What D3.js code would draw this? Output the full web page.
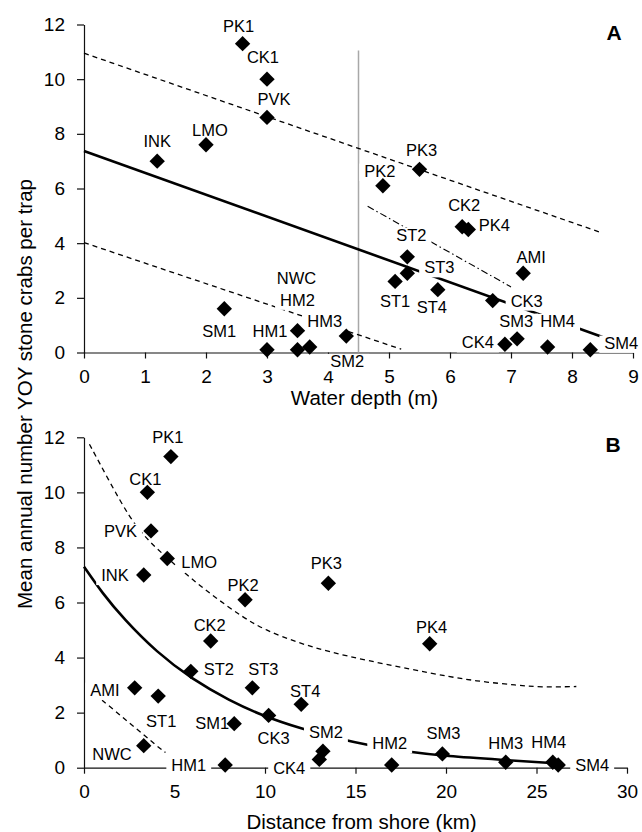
<!DOCTYPE html>
<html><head><meta charset="utf-8">
<script src="https://cdn.jsdelivr.net/npm/d3@7"></script>
<style>
body{margin:0;background:#fff}
svg{display:block}
text{font-family:"Liberation Sans",Arial,Helvetica,sans-serif;fill:#000}
</style>
</head><body>
<svg id="c" width="642" height="832"></svg>
<script>
// ---------------- DATA ----------------
const sites = ["PK1","CK1","PVK","LMO","INK","PK2","PK3","CK2","PK4","AMI","ST2","ST3","ST1","ST4","CK3","SM1","NWC","HM1","HM2","HM3","HM4","SM2","SM3","CK4","SM4"];
const yoyPerTrap = [11.3,10.0,8.6,7.6,7.0,6.1,6.7,4.6,4.5,2.9,3.5,2.9,2.6,2.3,1.9,1.6,0.8,0.1,0.1,0.2,0.2,0.6,0.5,0.3,0.1];
const depthM     = [2.6,3.0,3.0,2.0,1.2,4.9,5.5,6.2,6.3,7.2,5.3,5.3,5.1,5.8,6.7,2.3,3.5,3.0,3.5,3.7,7.6,4.3,7.1,6.9,8.3];
const distanceKm = [4.8,3.5,3.7,4.6,3.3,8.9,13.5,7.0,19.1,2.8,5.9,9.3,4.1,12.0,10.2,8.3,3.3,7.8,17.0,23.3,25.9,13.2,19.8,13.0,26.2];

const yTicks = [0,2,4,6,8,10,12];
const xTicksA = [0,1,2,3,4,5,6,7,8,9];
const xTicksB = [0,5,10,15,20,25,30];

// fitted lines (panel A: depth)
const fitA      = [[0,7.37],[8.5,0.57]];
const upperA    = [[0,10.95],[8.5,4.37]];
const lowerA    = [[0,4.02],[5.2,0.12]];
const dashDotA  = [[4.65,5.35],[7.0,2.4]];
const breakA    = [[4.5,0],[4.5,11.05]];

// fitted curves (panel B: distance)
const fitB   = [[0,7.3],[1,6.35],[2.2,5.4],[4,4.2],[6,3.2],[8,2.45],[10,1.85],[12,1.42],[14,1.05],[16,0.78],[18,0.57],[20,0.42],[23,0.29],[26.1,0.16]];
const upperB = [[0.3,11.75],[1.4,10.4],[2.5,9.1],[3.5,8.25],[5.4,7.15],[7,6.3],[8.8,5.45],[10,5.0],[11.9,4.52],[13.6,4.2],[15.6,3.9],[18,3.58],[20.2,3.3],[22,3.12],[23.9,3.0],[25.2,2.92],[27.2,2.95]];
const lowerB = [[1.0,2.45],[1.8,2.02],[2.5,1.63],[3.3,1.2],[4.0,0.8],[4.5,0.55]];

// ---------------- LAYOUT ----------------
const labelA = {PK1:[-4,-12],CK1:[-4,-16],PVK:[7,-12],LMO:[4,-9],INK:[0,-14],PK2:[-3,-9],PK3:[2,-13],
  CK2:[2,-16],PK4:[26,1],AMI:[8,-10],ST2:[4,-16],ST3:[32,0],ST1:[0,26],ST4:[-6,23],CK3:[34,6],
  SM3:[-1,-12],HM4:[10,-20],CK4:[-27,4],SM4:[31,-1],SM2:[1,31],SM1:[-5,28],HM1:[3,-13],NWC:[-1,-47],
  HM2:[0,-44],HM3:[15,-20]};
const labelB = {PK1:[-3,-14],CK1:[-2,-7],PVK:[-14,6,"end"],LMO:[14,10,"start"],INK:[-15,6,"end"],
  PK2:[-2,-9],PK3:[-2,-14],PK4:[2,-11],CK2:[-1,-10],ST2:[13,4,"start"],ST3:[11,-13],AMI:[-15,8,"end"],
  ST1:[3,31],ST4:[4,-7],CK3:[5,29],SM1:[-5,5,"end"],NWC:[-12,14,"end"],HM1:[-19,6,"end"],
  CK4:[-14,15,"end"],SM2:[3,-13],HM2:[-2,-16],SM3:[1,-15],HM3:[0,-13],HM4:[-4,-14],SM4:[17,6,"start"]};

const svg = d3.select("#c");
const TICK_FS = 19, LAB_FS = 16.5, TITLE_FS = 20.5;

function panel(opts){
  const {x, y, xVals, xTicks, lines, letter, letterPos, labels, title, titleY} = opts;
  const g = svg.append("g");
  // axes
  const ax = g.append("g").attr("transform",`translate(0,${y(0)})`)
    .call(d3.axisBottom(x).tickValues(xTicks).tickSize(6).tickPadding(11).tickSizeOuter(0));
  const ay = g.append("g").attr("transform",`translate(${x(0)},0)`)
    .call(d3.axisLeft(y).tickValues(yTicks).tickSize(7).tickPadding(12).tickSizeOuter(0));
  [ax,ay].forEach(a=>{
    a.selectAll("path,line").attr("stroke","#111").attr("stroke-width",1.2);
    a.selectAll("text").attr("font-size",TICK_FS).attr("font-family",'"Liberation Sans",Arial,sans-serif').attr("fill","#111");
  });
  // lines
  lines.forEach(l=>{
    const gen = d3.line().x(d=>x(d[0])).y(d=>y(d[1])).curve(l.curve||d3.curveLinear);
    g.append("path").attr("d",gen(l.data)).attr("fill","none")
      .attr("stroke",l.color||"#000").attr("stroke-width",l.w)
      .attr("stroke-dasharray",l.dash||null);
  });
  // labels with white background
  const lg = g.append("g");
  sites.forEach((s,i)=>{
    const o = labels[s]; if(!o) return;
    const px = x(xVals[i]) + o[0], py = y(yoyPerTrap[i]) + o[1];
    const sub = lg.append("g");
    const t = sub.append("text").attr("x",px).attr("y",py).attr("text-anchor",o[2]||"middle")
      .attr("font-size",LAB_FS).text(s);
    const bb = t.node().getBBox();
    sub.insert("rect","text").attr("x",bb.x-5).attr("width",bb.width+10)
      .attr("y",py-0.8*LAB_FS).attr("height",1.05*LAB_FS).attr("fill","#fff");
  });
  // points
  g.append("g").selectAll("path").data(sites).join("path")
    .attr("d",d3.symbol(d3.symbolSquare,118)())
    .attr("transform",(s,i)=>`translate(${x(xVals[i])},${y(yoyPerTrap[i])}) rotate(45)`)
    .attr("fill","#000");
  // panel letter
  g.append("text").attr("x",letterPos[0]).attr("y",letterPos[1]).attr("text-anchor","middle")
    .attr("font-size",21).attr("font-weight","bold").text(letter);
  // x title
  g.append("text").attr("x",(x.range()[0]+x.range()[1])/2+6).attr("y",titleY).attr("text-anchor","middle")
    .attr("font-size",TITLE_FS).attr("fill","#111").text(title);
}

const xA = d3.scaleLinear().domain([0,9]).range([84,633]);
const yA = d3.scaleLinear().domain([0,12]).range([352.5,24.5]);
const xB = d3.scaleLinear().domain([0,30]).range([84,627]);
const yB = d3.scaleLinear().domain([0,12]).range([767.7,437.3]);

panel({x:xA, y:yA, xVals:depthM, xTicks:xTicksA, letter:"A", letterPos:[614,40], labels:labelA,
  title:"Water depth (m)", titleY:405,
  lines:[
    {data:breakA, w:1.5, color:"#a8a8a8"},
    {data:upperA, w:1.3, dash:"5,4"},
    {data:lowerA, w:1.3, dash:"5,4"},
    {data:dashDotA, w:1.1, dash:"7,3,1.5,3"},
    {data:fitA, w:2.6}
  ]});

panel({x:xB, y:yB, xVals:distanceKm, xTicks:xTicksB, letter:"B", letterPos:[613,452], labels:labelB,
  title:"Distance from shore (km)", titleY:829,
  lines:[
    {data:upperB, w:1.3, dash:"5,4", curve:d3.curveBasis},
    {data:lowerB, w:1.3, dash:"5,4", curve:d3.curveBasis},
    {data:fitB, w:2.6, curve:d3.curveBasis}
  ]});

// shared y title
svg.append("text").attr("transform","translate(32,394) rotate(-90)").attr("text-anchor","middle")
  .attr("font-size",TITLE_FS).attr("fill","#111").text("Mean annual number YOY stone crabs per trap");
</script>
</body></html>
